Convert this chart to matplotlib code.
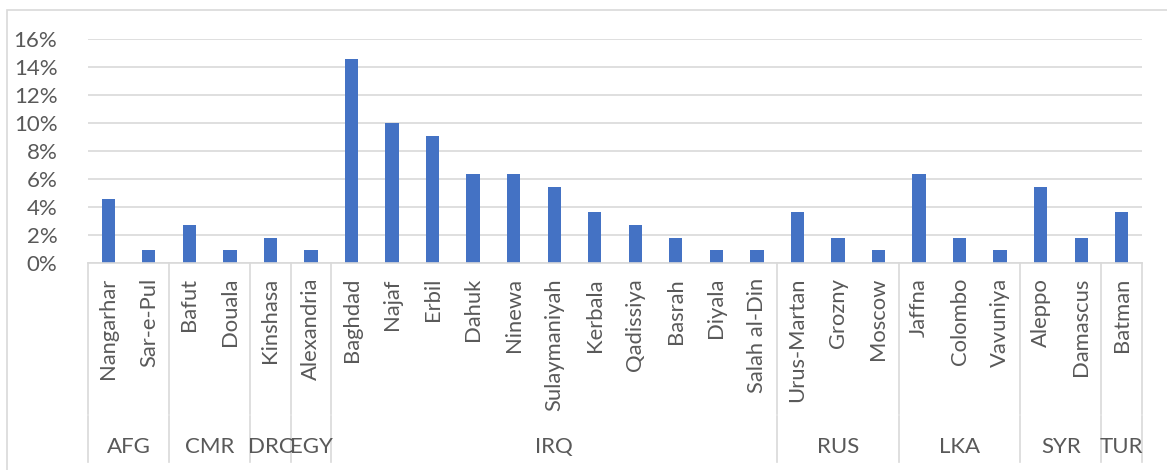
import matplotlib.pyplot as plt
from matplotlib.ticker import PercentFormatter
from matplotlib.transforms import blended_transform_factory

# respondents by city, grouped by country
countries = ["AFG", "CMR", "DRC", "EGY", "IRQ", "RUS", "LKA", "SYR", "TUR"]
cities = [
    ["Nangarhar", "Sar-e-Pul"],
    ["Bafut", "Douala"],
    ["Kinshasa"],
    ["Alexandria"],
    ["Baghdad", "Najaf", "Erbil", "Dahuk", "Ninewa", "Sulaymaniyah",
     "Kerbala", "Qadissiya", "Basrah", "Diyala", "Salah al-Din"],
    ["Urus-Martan", "Grozny", "Moscow"],
    ["Jaffna", "Colombo", "Vavuniya"],
    ["Aleppo", "Damascus"],
    ["Batman"],
]
counts = [
    [5, 1],
    [3, 1],
    [2],
    [1],
    [16, 11, 10, 7, 7, 6, 4, 3, 2, 1, 1],
    [4, 2, 1],
    [7, 2, 1],
    [6, 2],
    [4],
]

total = sum(sum(c) for c in counts)
labels = [name for group in cities for name in group]
shares = [n / total for group in counts for n in group]

plt.rcParams["font.family"] = ["Lato", "DejaVu Sans"]
text_color = "#595959"
line_color = "#d9d9d9"

W, H = 1167, 470
fig = plt.figure(figsize=(W / 100, H / 100), dpi=100)

def fx(px):
    return px / W

def fy(py):
    return 1 - py / H

left, right, top, bottom = 88, 1142, 39, 263
ax = fig.add_axes([fx(left), fy(bottom), fx(right - left), (bottom - top) / H])

x = list(range(len(labels)))
ax.bar(x, shares, width=0.33, color="#4472C4", zorder=2)
ax.set_xlim(-0.5, len(labels) - 0.5)
ax.set_ylim(0, 0.16)
ax.set_yticks([i / 100 for i in range(0, 17, 2)])
ax.yaxis.set_major_formatter(PercentFormatter(1.0, decimals=0))
ax.tick_params(axis="y", length=0, pad=22, labelsize=16, labelcolor=text_color)
ax.set_xticks([])
ax.grid(axis="y", color=line_color, linewidth=1.2, zorder=0)
for side in ["top", "right", "left"]:
    ax.spines[side].set_visible(False)
ax.spines["bottom"].set_color(line_color)
ax.spines["bottom"].set_linewidth(1.2)

trans = blended_transform_factory(ax.transData, fig.transFigure)

# city labels
for xi, name in zip(x, labels):
    ax.text(xi, fy(278), name, rotation=90, ha="center", va="top",
            fontsize=15.8, color=text_color, transform=trans, clip_on=False)

# country labels and separators
start = -0.5
bounds = [start]
for country, group in zip(countries, cities):
    end = start + len(group)
    ax.text((start + end) / 2, fy(447), country, ha="center", va="center",
            fontsize=16, color=text_color, transform=trans, clip_on=False)
    bounds.append(end)
    start = end

for b in bounds:
    for y0, y1 in [(bottom, 414), (416, 462)]:
        ax.plot([b, b], [fy(y0), fy(y1)], color=line_color, linewidth=1.2,
                transform=trans, clip_on=False)

# chart border
fig.add_artist(plt.Rectangle((fx(7), fy(480)), fx(1180 - 7), (480 - 10) / H,
                             fill=False, edgecolor=line_color, linewidth=1.2,
                             transform=fig.transFigure))

fig.savefig("out.png", dpi=100)
